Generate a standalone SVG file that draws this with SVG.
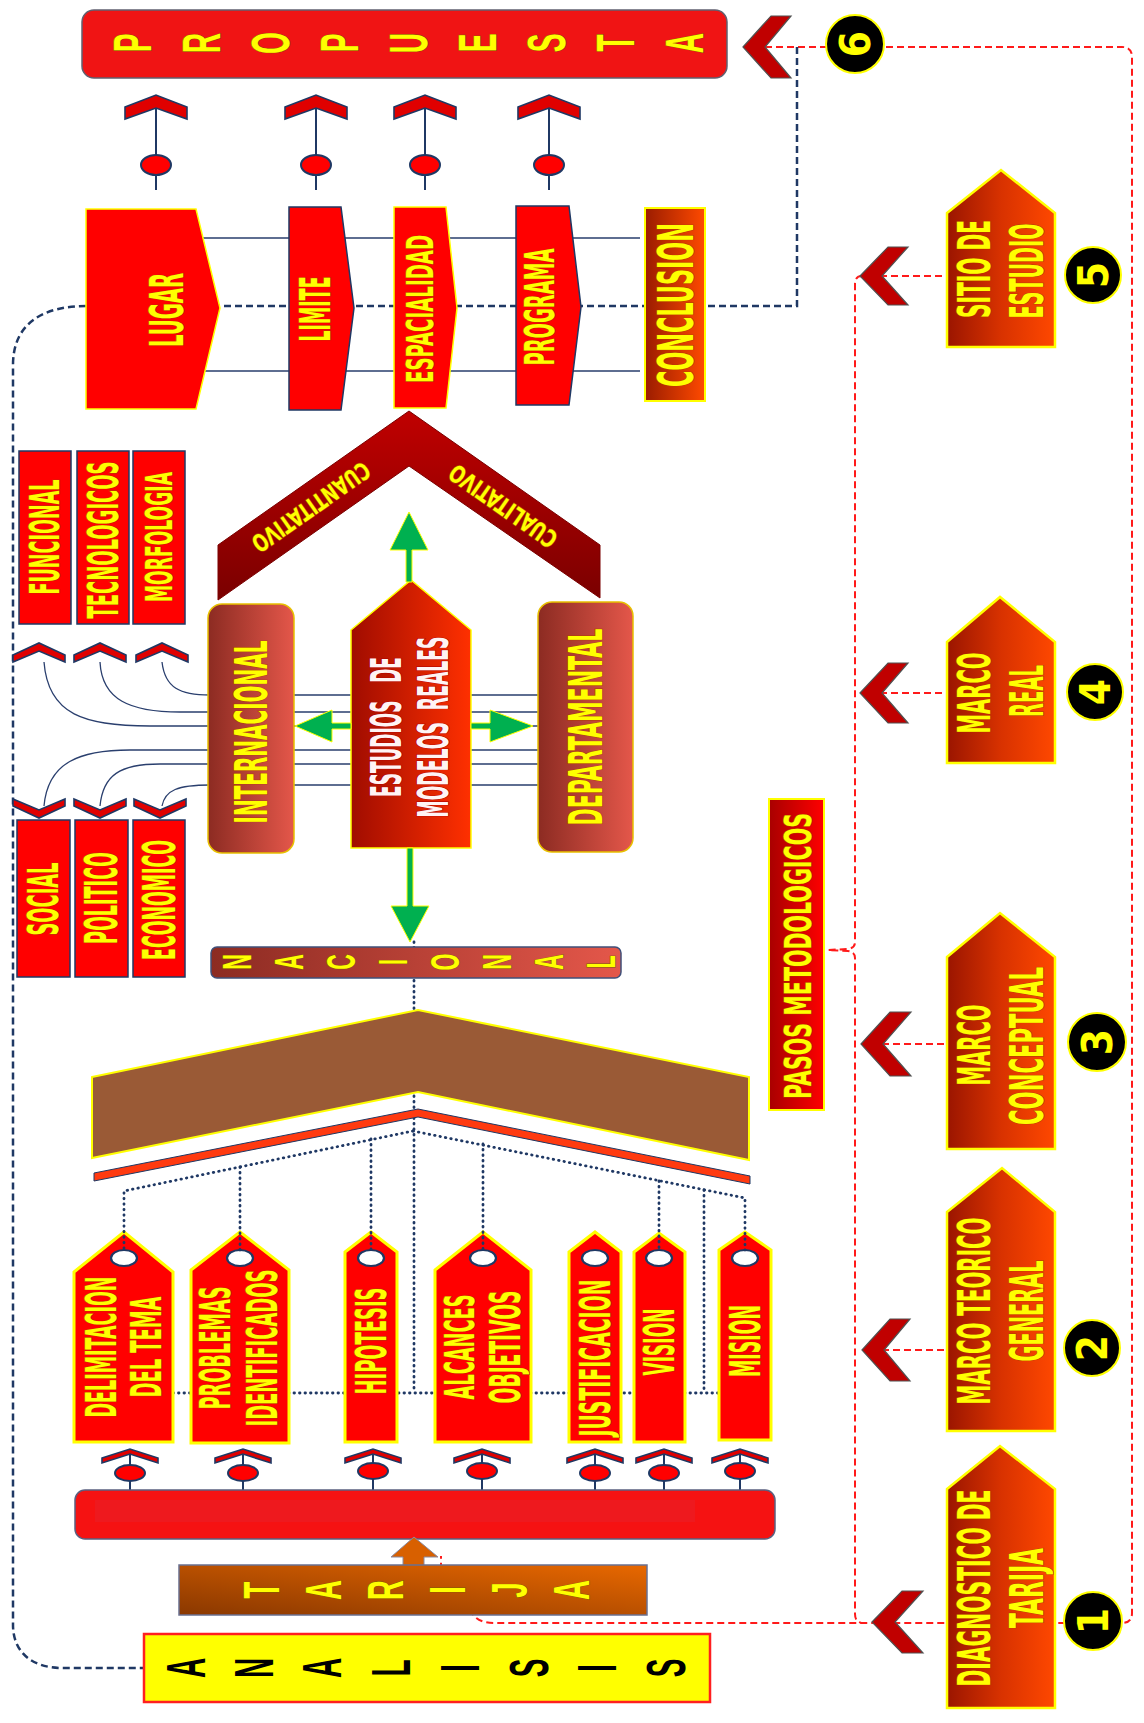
<svg xmlns="http://www.w3.org/2000/svg" width="1144" height="1723" viewBox="0 0 1144 1723">
<defs>
<linearGradient id="gHouse" x1="0" y1="0" x2="1" y2="0"><stop offset="0" stop-color="#9a1500"/><stop offset="0.5" stop-color="#d83200"/><stop offset="1" stop-color="#ff4800"/></linearGradient>
<linearGradient id="gCol" x1="0" y1="0" x2="1" y2="0"><stop offset="0" stop-color="#8c2b22"/><stop offset="1" stop-color="#e4574a"/></linearGradient>
<linearGradient id="gEst" x1="0" y1="0" x2="1" y2="0"><stop offset="0" stop-color="#a00c00"/><stop offset="1" stop-color="#ff3000"/></linearGradient>
<linearGradient id="gConc" x1="0" y1="0" x2="1" y2="0"><stop offset="0" stop-color="#9a1c00"/><stop offset="1" stop-color="#ff4a00"/></linearGradient>
<linearGradient id="gPasos" x1="0" y1="0" x2="1" y2="0"><stop offset="0" stop-color="#a80000"/><stop offset="1" stop-color="#ff0000"/></linearGradient>
<linearGradient id="gTar" x1="0" y1="1" x2="1" y2="0"><stop offset="0" stop-color="#8a3800"/><stop offset="1" stop-color="#e86800"/></linearGradient>
<linearGradient id="gRoof" x1="0" y1="0" x2="0" y2="1"><stop offset="0" stop-color="#c00000"/><stop offset="1" stop-color="#7a0000"/></linearGradient>
<style>
.t{font-family:"Liberation Sans Narrow","DejaVu Sans Condensed","Liberation Sans",sans-serif;font-weight:bold;fill:#ffff00;stroke:#b04000;stroke-width:1.4;paint-order:stroke;text-anchor:middle}
.tw{font-family:"Liberation Sans Narrow","DejaVu Sans Condensed","Liberation Sans",sans-serif;font-weight:bold;fill:#fff4f4;stroke:#b00000;stroke-width:1.6;paint-order:stroke;text-anchor:middle;white-space:pre}
.L{font-family:"Liberation Sans","DejaVu Sans",sans-serif;font-weight:bold;fill:#ffff00;stroke:#806000;stroke-width:1.2;paint-order:stroke;text-anchor:middle}
.Lk{font-family:"Liberation Sans","DejaVu Sans",sans-serif;font-weight:bold;fill:#000;text-anchor:middle}
.red{fill:#ff0000;stroke:#1f3864;stroke-width:1.5}
.tag{fill:#ff0000;stroke:#ffff00;stroke-width:3}
.house{fill:url(#gHouse);stroke:#ffff00;stroke-width:2.5}
.chev{fill:#c00000;stroke:#505050;stroke-width:1.2}
.chevU{fill:#e00000;stroke:#1f3864;stroke-width:1.6}
.circ{fill:#000;stroke:#ffff00;stroke-width:2}
.num{font-family:"Liberation Sans Narrow","DejaVu Sans Condensed","Liberation Sans",sans-serif;font-weight:bold;fill:#ffff00;text-anchor:middle}
.rdash{fill:none;stroke:#ff1a1a;stroke-width:2;stroke-dasharray:7 4}
.ndash{fill:none;stroke:#1f3864;stroke-width:2.5;stroke-dasharray:7 4}
.thin{fill:none;stroke:#2a3f6e;stroke-width:1.3}
.dot{fill:none;stroke:#1f3864;stroke-width:2.8;stroke-dasharray:0.5 5;stroke-linecap:round}
.stem{fill:none;stroke:#1f3864;stroke-width:2}
.ell{fill:#ff0000;stroke:#1f3864;stroke-width:2}
.hole{fill:#ffffff;stroke:#1f3864;stroke-width:2.2}
.green{fill:#00b050;stroke:#ffff00;stroke-width:1}
</style>
</defs>
<rect width="1144" height="1723" fill="#ffffff"/>

<g id="connectors">
<path class="rdash" d="M743 47 L1122 47 Q1132 47 1132 57 L1132 1613 Q1132 1623 1122 1623 L494 1623 Q478 1623 472 1613 L441 1566 L441 1556"/>
<path class="rdash" d="M862 276 Q855 276 855 284 L855 942 Q855 948 848 949 L828 950 L848 951 Q855 952 855 958 L855 1614 Q855 1623 864 1623"/>
<path class="rdash" d="M880 276 H947 M880 693 H947 M882 1044 H947 M882 1350 H947"/>
<path class="ndash" d="M797 47 L797 306 L86 306"/>
<path class="ndash" d="M86 306 C45 306 13 322 13 365 L13 1625 C13 1652 32 1668 62 1668 L143 1668"/>
<path class="thin" d="M203 238 H640 M203 371 H640"/>
<path class="thin" d="M162 662 C165 688 180 695 210 695 L538 695"/>
<path class="thin" d="M100 662 C102 700 130 712 180 712 L538 712"/>
<path class="thin" d="M44 662 C48 715 85 726 150 726 L538 726"/>
<path class="thin" d="M44 806 C48 762 80 750 130 750 L538 750"/>
<path class="thin" d="M100 806 C103 775 120 764 160 764 L538 764"/>
<path class="thin" d="M162 806 C165 790 178 785 210 785 L538 785"/>
<path class="dot" d="M414 942 V1393"/>
<path class="dot" d="M173 1393 H719"/>
<path class="dot" d="M704 1190 V1393"/>
<path class="stem" d="M156 108 V190 M316 108 V190 M425 108 V190 M549 108 V190"/>
<path class="stem" d="M130 1454 V1490 M243 1454 V1490 M373 1454 V1490 M482 1454 V1490 M595 1454 V1490 M664 1454 V1490 M740 1454 V1490"/>
</g>

<g id="propuesta">
<rect x="82" y="10" width="645" height="68" rx="12" fill="#f01414" stroke="#606070" stroke-width="1.5"/>
<text class="L" font-size="53" transform="translate(132,43) rotate(-90) scale(0.53,1)" y="19">P</text>
<text class="L" font-size="53" transform="translate(201,43) rotate(-90) scale(0.53,1)" y="19">R</text>
<text class="L" font-size="53" transform="translate(270,43) rotate(-90) scale(0.53,1)" y="19">O</text>
<text class="L" font-size="53" transform="translate(339,43) rotate(-90) scale(0.53,1)" y="19">P</text>
<text class="L" font-size="53" transform="translate(408,43) rotate(-90) scale(0.53,1)" y="19">U</text>
<text class="L" font-size="53" transform="translate(477,43) rotate(-90) scale(0.53,1)" y="19">E</text>
<text class="L" font-size="53" transform="translate(546,43) rotate(-90) scale(0.53,1)" y="19">S</text>
<text class="L" font-size="53" transform="translate(615,43) rotate(-90) scale(0.53,1)" y="19">T</text>
<text class="L" font-size="53" transform="translate(684,43) rotate(-90) scale(0.53,1)" y="19">A</text>
</g>

<g id="propuesta-arrows">
<polygon class="chevU" points="125,107 156,95 187,107 187,119 156,108 125,119"/>
<polygon class="chevU" points="285,107 316,95 347,107 347,119 316,108 285,119"/>
<polygon class="chevU" points="394,107 425,95 456,107 456,119 425,108 394,119"/>
<polygon class="chevU" points="518,107 549,95 580,107 580,119 549,108 518,119"/>
<ellipse class="ell" cx="156" cy="165" rx="15" ry="10"/>
<ellipse class="ell" cx="316" cy="165" rx="15" ry="10"/>
<ellipse class="ell" cx="425" cy="165" rx="15" ry="10"/>
<ellipse class="ell" cx="549" cy="165" rx="15" ry="10"/>
</g>

<g id="lugar"><polygon points="86,209 196,209 220,308 196,409 86,409" fill="#ff0000" stroke="#ffff00" stroke-width="1.5"/>
<text class="t" font-size="47" textLength="74" lengthAdjust="spacingAndGlyphs" transform="rotate(-90 166 310)" x="166" y="327">LUGAR</text></g>
<g id="limite"><polygon class="red" points="289,207 341,207 354,308 341,410 289,410"/>
<text class="t" font-size="43" textLength="65" lengthAdjust="spacingAndGlyphs" transform="rotate(-90 315 309)" x="315" y="324">LIMITE</text></g>
<g id="espacialidad"><polygon points="394,207 446,207 457,308 446,408 394,408" fill="#ff0000" stroke="#ffff00" stroke-width="1.5"/>
<text class="t" font-size="38" textLength="148" lengthAdjust="spacingAndGlyphs" transform="rotate(-90 419 309)" x="419" y="323">ESPACIALIDAD</text></g>
<g id="programa"><polygon class="red" points="516,206 569,206 581,307 569,405 516,405"/>
<text class="t" font-size="40" textLength="117" lengthAdjust="spacingAndGlyphs" transform="rotate(-90 540 307)" x="540" y="321">PROGRAMA</text></g>
<g id="conclusion"><rect x="645" y="208" width="60" height="193" fill="url(#gConc)" stroke="#ffff00" stroke-width="2"/>
<text class="t" font-size="50" textLength="164" lengthAdjust="spacingAndGlyphs" transform="rotate(-90 675 305)" x="675" y="323">CONCLUSION</text></g>

<g id="roof">
<polygon points="218,545 409,411 600,545 600,598 409,466 218,600" fill="url(#gRoof)" stroke="#7a0000" stroke-width="1"/>
<text class="t" font-size="24" textLength="138" lengthAdjust="spacingAndGlyphs" transform="translate(311,507) rotate(145)" y="8.5" stroke-width="0.8">CUANTITATIVO</text>
<text class="t" font-size="24" textLength="126" lengthAdjust="spacingAndGlyphs" transform="translate(503,506) rotate(-145)" y="8.5" stroke-width="0.8">CUALITATIVO</text>
</g>

<g id="funcional"><rect class="red" x="19" y="451" width="52" height="173"/>
<text class="t" font-size="40" textLength="115" lengthAdjust="spacingAndGlyphs" transform="rotate(-90 45 537)" x="45" y="551">FUNCIONAL</text></g>
<g id="tecnologicos"><rect class="red" x="77" y="451" width="52" height="173"/>
<text class="t" font-size="43" textLength="157" lengthAdjust="spacingAndGlyphs" transform="rotate(-90 103 540)" x="103" y="555">TECNOLOGICOS</text></g>
<g id="morfologia"><rect class="red" x="133" y="451" width="52" height="173"/>
<text class="t" font-size="38" textLength="130" lengthAdjust="spacingAndGlyphs" transform="rotate(-90 158 537)" x="158" y="551">MORFOLOGIA</text></g>

<g id="left-chevrons">
<polygon class="chevU" points="13,655 39,643 65,655 65,662 39,651 13,662"/>
<polygon class="chevU" points="74,655 100,643 126,655 126,662 100,651 74,662"/>
<polygon class="chevU" points="136,655 162,643 188,655 188,662 162,651 136,662"/>
<polygon class="chevU" points="13,799 39,810 65,799 65,806 39,818 13,806"/>
<polygon class="chevU" points="74,799 100,810 126,799 126,806 100,818 74,806"/>
<polygon class="chevU" points="134,799 160,810 186,799 186,806 160,818 134,806"/>
</g>

<g id="social"><rect class="red" x="17" y="820" width="53" height="157"/>
<text class="t" font-size="42" textLength="73" lengthAdjust="spacingAndGlyphs" transform="rotate(-90 43 899)" x="43" y="914">SOCIAL</text></g>
<g id="politico"><rect class="red" x="75" y="820" width="53" height="157"/>
<text class="t" font-size="44" textLength="92" lengthAdjust="spacingAndGlyphs" transform="rotate(-90 101 898)" x="101" y="914">POLITICO</text></g>
<g id="economico"><rect class="red" x="133" y="820" width="52" height="157"/>
<text class="t" font-size="44" textLength="120" lengthAdjust="spacingAndGlyphs" transform="rotate(-90 159 900)" x="159" y="916">ECONOMICO</text></g>

<g id="internacional"><rect x="208" y="604" width="86" height="249" rx="14" fill="url(#gCol)" stroke="#e8c000" stroke-width="1.5"/>
<text class="t" font-size="44" textLength="183" lengthAdjust="spacingAndGlyphs" transform="rotate(-90 251 732)" x="251" y="748">INTERNACIONAL</text></g>
<g id="estudios"><polygon points="351,630 411,580 471,630 471,848 351,848" fill="url(#gEst)" stroke="#ffff00" stroke-width="1.5"/>
<text class="tw" xml:space="preserve" font-size="43" textLength="140" lengthAdjust="spacingAndGlyphs" transform="rotate(-90 386 727)" x="386" y="742">ESTUDIOS   DE</text>
<text class="tw" xml:space="preserve" font-size="43" textLength="181" lengthAdjust="spacingAndGlyphs" transform="rotate(-90 433 727)" x="433" y="742">MODELOS  REALES</text></g>
<g id="departamental"><rect x="538" y="602" width="95" height="250" rx="14" fill="url(#gCol)" stroke="#e8c000" stroke-width="1.5"/>
<text class="t" font-size="46" textLength="197" lengthAdjust="spacingAndGlyphs" transform="rotate(-90 586 727)" x="586" y="743">DEPARTAMENTAL</text></g>

<g id="green-arrows">
<polygon class="green" points="406,582 406,550 390,550 409,512 428,550 412,550 412,582"/>
<polygon class="green" points="351,723 332,723 332,710 295,726 332,742 332,729 351,729"/>
<polygon class="green" points="471,723 490,723 490,710 533,726 490,742 490,729 471,729"/>
<polygon class="green" points="407,848 413,848 413,906 429,906 410,942 391,906 407,906"/>
</g>

<g id="nacional"><rect x="211" y="947" width="410" height="31" rx="6" fill="url(#gCol)" stroke="#40507a" stroke-width="1.5"/>
<text class="L" font-size="40" transform="translate(236,962) rotate(-90) scale(0.54,1)" y="14.5">N</text>
<text class="L" font-size="40" transform="translate(288,962) rotate(-90) scale(0.54,1)" y="14.5">A</text>
<text class="L" font-size="40" transform="translate(340,962) rotate(-90) scale(0.54,1)" y="14.5">C</text>
<text class="L" font-size="40" transform="translate(392,962) rotate(-90) scale(0.54,1)" y="14.5">I</text>
<text class="L" font-size="40" transform="translate(444,962) rotate(-90) scale(0.54,1)" y="14.5">O</text>
<text class="L" font-size="40" transform="translate(496,962) rotate(-90) scale(0.54,1)" y="14.5">N</text>
<text class="L" font-size="40" transform="translate(548,962) rotate(-90) scale(0.54,1)" y="14.5">A</text>
<text class="L" font-size="40" transform="translate(600,962) rotate(-90) scale(0.54,1)" y="14.5">L</text>
</g>

<g id="brown-roof">
<polygon points="92,1077 418,1010 749,1077 749,1160 418,1092 92,1158" fill="#9a5a36" stroke="#ffff00" stroke-width="2"/>
<polygon points="94,1173 418,1109 750,1176 750,1184 418,1117 94,1181" fill="#ff3a10" stroke="#1f3864" stroke-width="1"/>
</g>

<g id="delimitacion"><polygon class="tag" points="74,1272 124,1232 173,1272 173,1442 74,1442"/><ellipse class="hole" cx="124" cy="1258" rx="13" ry="8"/>
<text class="t" font-size="42" textLength="141" lengthAdjust="spacingAndGlyphs" transform="rotate(-90 101 1347)" x="101" y="1362">DELIMITACION</text>
<text class="t" font-size="42" textLength="101" lengthAdjust="spacingAndGlyphs" transform="rotate(-90 146 1347)" x="146" y="1362">DEL TEMA</text></g>
<g id="problemas"><polygon class="tag" points="191,1270 240,1232 289,1270 289,1443 191,1443"/><ellipse class="hole" cx="240" cy="1258" rx="13" ry="8"/>
<text class="t" font-size="42" textLength="123" lengthAdjust="spacingAndGlyphs" transform="rotate(-90 215 1348)" x="215" y="1363">PROBLEMAS</text>
<text class="t" font-size="42" textLength="157" lengthAdjust="spacingAndGlyphs" transform="rotate(-90 262 1348)" x="262" y="1363">IDENTIFICADOS</text></g>
<g id="hipotesis"><polygon class="tag" points="345,1252 371,1232 397,1252 397,1442 345,1442"/><ellipse class="hole" cx="371" cy="1258" rx="13" ry="8"/>
<text class="t" font-size="42" textLength="107" lengthAdjust="spacingAndGlyphs" transform="rotate(-90 371 1341)" x="371" y="1356">HIPOTESIS</text></g>
<g id="alcances"><polygon class="tag" points="435,1270 483,1232 531,1270 531,1442 435,1442"/><ellipse class="hole" cx="483" cy="1258" rx="13" ry="8"/>
<text class="t" font-size="41" textLength="105" lengthAdjust="spacingAndGlyphs" transform="rotate(-90 459 1347)" x="459" y="1362">ALCANCES</text>
<text class="t" font-size="42" textLength="113" lengthAdjust="spacingAndGlyphs" transform="rotate(-90 505 1347)" x="505" y="1362">OBJETIVOS</text></g>
<g id="justificacion"><polygon class="tag" points="569,1252 595,1232 621,1252 621,1442 569,1442"/><ellipse class="hole" cx="595" cy="1258" rx="13" ry="8"/>
<text class="t" font-size="42" textLength="157" lengthAdjust="spacingAndGlyphs" transform="rotate(-90 595 1358)" x="595" y="1373">JUSTIFICACION</text></g>
<g id="vision"><polygon class="tag" points="634,1252 659,1233 685,1252 685,1442 634,1442"/><ellipse class="hole" cx="659" cy="1258" rx="13" ry="8"/>
<text class="t" font-size="42" textLength="67" lengthAdjust="spacingAndGlyphs" transform="rotate(-90 659 1342)" x="659" y="1357">VISION</text></g>
<g id="mision"><polygon class="tag" points="719,1250 745,1232 771,1250 771,1440 719,1440"/><ellipse class="hole" cx="745" cy="1258" rx="13" ry="8"/>
<text class="t" font-size="42" textLength="72" lengthAdjust="spacingAndGlyphs" transform="rotate(-90 745 1341)" x="745" y="1356">MISION</text></g>

<g id="connectors-front">
<path class="dot" d="M413 1131 L124 1191 V1250"/>
<path class="dot" d="M413 1131 L745 1198 V1250"/>
<path class="dot" d="M240 1167 V1250 M371 1139 V1250 M483 1144 V1250 M659 1181 V1250"/>
</g>

<g id="tag-arrows">
<polygon class="chevU" points="102,1458 130,1449 158,1458 158,1463 130,1454 102,1463"/>
<polygon class="chevU" points="215,1458 243,1449 271,1458 271,1463 243,1454 215,1463"/>
<polygon class="chevU" points="345,1458 373,1449 401,1458 401,1463 373,1454 345,1463"/>
<polygon class="chevU" points="454,1458 482,1449 510,1458 510,1463 482,1454 454,1463"/>
<polygon class="chevU" points="567,1458 595,1449 623,1458 623,1463 595,1454 567,1463"/>
<polygon class="chevU" points="636,1458 664,1449 692,1458 692,1463 664,1454 636,1463"/>
<polygon class="chevU" points="712,1458 740,1449 768,1458 768,1463 740,1454 712,1463"/>
<ellipse class="ell" cx="130" cy="1473" rx="15" ry="8"/>
<ellipse class="ell" cx="243" cy="1473" rx="15" ry="8"/>
<ellipse class="ell" cx="373" cy="1471" rx="15" ry="8"/>
<ellipse class="ell" cx="482" cy="1471" rx="15" ry="8"/>
<ellipse class="ell" cx="595" cy="1473" rx="15" ry="8"/>
<ellipse class="ell" cx="664" cy="1473" rx="15" ry="8"/>
<ellipse class="ell" cx="740" cy="1471" rx="15" ry="8"/>
</g>

<g id="base-bar">
<rect x="75" y="1490" width="700" height="49" rx="10" fill="#f51212" stroke="#5a6080" stroke-width="1.5"/>
<rect x="95" y="1500" width="600" height="22" fill="#e8202a" opacity="0.5"/>
</g>

<g id="tarija">
<polygon points="403,1566 403,1557 391,1557 414,1537 438,1557 424,1557 424,1566" fill="#d86000" stroke="#8a8aa0" stroke-width="1"/>
<rect x="179" y="1565" width="468" height="50" fill="url(#gTar)" stroke="#6a7090" stroke-width="1.5"/>
<text class="L" font-size="50" transform="translate(261,1590) rotate(-90) scale(0.55,1)" y="18">T</text>
<text class="L" font-size="50" transform="translate(323,1590) rotate(-90) scale(0.55,1)" y="18">A</text>
<text class="L" font-size="50" transform="translate(385,1590) rotate(-90) scale(0.55,1)" y="18">R</text>
<text class="L" font-size="50" transform="translate(447,1590) rotate(-90) scale(0.55,1)" y="18">I</text>
<text class="L" font-size="50" transform="translate(509,1590) rotate(-90) scale(0.55,1)" y="18">J</text>
<text class="L" font-size="50" transform="translate(571,1590) rotate(-90) scale(0.55,1)" y="18">A</text>
</g>

<g id="analisis">
<rect x="144" y="1634" width="566" height="68" fill="#ffff00" stroke="#ff2020" stroke-width="2.5"/>
<text class="Lk" font-size="56" transform="translate(185,1668) rotate(-90) scale(0.5,1)" y="20">A</text>
<text class="Lk" font-size="56" transform="translate(253,1668) rotate(-90) scale(0.5,1)" y="20">N</text>
<text class="Lk" font-size="56" transform="translate(321,1668) rotate(-90) scale(0.5,1)" y="20">A</text>
<text class="Lk" font-size="56" transform="translate(390,1668) rotate(-90) scale(0.5,1)" y="20">L</text>
<text class="Lk" font-size="56" transform="translate(459,1668) rotate(-90) scale(0.5,1)" y="20">I</text>
<text class="Lk" font-size="56" transform="translate(528,1668) rotate(-90) scale(0.5,1)" y="20">S</text>
<text class="Lk" font-size="56" transform="translate(596,1668) rotate(-90) scale(0.5,1)" y="20">I</text>
<text class="Lk" font-size="56" transform="translate(665,1668) rotate(-90) scale(0.5,1)" y="20">S</text>
</g>

<g id="pasos"><rect x="769" y="799" width="55" height="311" fill="url(#gPasos)" stroke="#ffff00" stroke-width="2"/>
<text class="t" font-size="38" textLength="286" lengthAdjust="spacingAndGlyphs" transform="rotate(-90 797 956)" x="797" y="970">PASOS METODOLOGICOS</text></g>

<g id="step6">
<polygon class="chev" points="743,47 771,16 791,16 765,47 791,78 771,78"/>
<circle class="circ" cx="855" cy="44" r="29"/>
<text class="num" font-size="42" transform="rotate(-90 855 44)" x="855" y="59">6</text>
</g>
<g id="step5">
<polygon class="chev" points="860,276 888,247 908,247 882,276 908,305 888,305"/>
<polygon class="house" points="947,213 1001,170 1055,213 1055,347 947,347"/>
<text class="t" font-size="44" textLength="98" lengthAdjust="spacingAndGlyphs" transform="rotate(-90 974 269)" x="974" y="285">SITIO DE</text>
<text class="t" font-size="46" textLength="95" lengthAdjust="spacingAndGlyphs" transform="rotate(-90 1027 271)" x="1027" y="287">ESTUDIO</text>
<circle class="circ" cx="1093" cy="275" r="28"/>
<text class="num" font-size="42" transform="rotate(-90 1093 275)" x="1093" y="290">5</text>
</g>
<g id="step4">
<polygon class="chev" points="860,693 888,663 908,663 882,693 908,723 888,723"/>
<polygon class="house" points="947,642 1000,597 1055,642 1055,763 947,763"/>
<text class="t" font-size="44" textLength="81" lengthAdjust="spacingAndGlyphs" transform="rotate(-90 974 693)" x="974" y="709">MARCO</text>
<text class="t" font-size="46" textLength="52" lengthAdjust="spacingAndGlyphs" transform="rotate(-90 1027 691)" x="1027" y="707">REAL</text>
<circle class="circ" cx="1095" cy="692" r="28"/>
<text class="num" font-size="42" transform="rotate(-90 1095 692)" x="1095" y="707">4</text>
</g>
<g id="step3">
<polygon class="chev" points="861,1044 890,1012 911,1012 883,1044 911,1076 890,1076"/>
<polygon class="house" points="947,957 1000,913 1055,957 1055,1149 947,1149"/>
<text class="t" font-size="44" textLength="81" lengthAdjust="spacingAndGlyphs" transform="rotate(-90 974 1045)" x="974" y="1061">MARCO</text>
<text class="t" font-size="46" textLength="158" lengthAdjust="spacingAndGlyphs" transform="rotate(-90 1027 1046)" x="1027" y="1062">CONCEPTUAL</text>
<circle class="circ" cx="1097" cy="1042" r="29"/>
<text class="num" font-size="42" transform="rotate(-90 1097 1042)" x="1097" y="1057">3</text>
</g>
<g id="step2">
<polygon class="chev" points="862,1350 890,1319 910,1319 884,1350 910,1381 890,1381"/>
<polygon class="house" points="947,1212 1002,1168 1055,1212 1055,1431 947,1431"/>
<text class="t" font-size="44" textLength="187" lengthAdjust="spacingAndGlyphs" transform="rotate(-90 974 1311)" x="974" y="1327">MARCO TEORICO</text>
<text class="t" font-size="46" textLength="101" lengthAdjust="spacingAndGlyphs" transform="rotate(-90 1027 1311)" x="1027" y="1327">GENERAL</text>
<circle class="circ" cx="1092" cy="1348" r="28"/>
<text class="num" font-size="42" transform="rotate(-90 1092 1348)" x="1092" y="1363">2</text>
</g>
<g id="step1">
<polygon class="chev" points="872,1622 902,1591 923,1591 895,1622 923,1653 902,1653"/>
<polygon class="house" points="947,1489 1000,1446 1055,1489 1055,1708 947,1708"/>
<text class="t" font-size="44" textLength="197" lengthAdjust="spacingAndGlyphs" transform="rotate(-90 974 1588)" x="974" y="1604">DIAGNOSTICO DE</text>
<text class="t" font-size="46" textLength="80" lengthAdjust="spacingAndGlyphs" transform="rotate(-90 1027 1588)" x="1027" y="1604">TARIJA</text>
<circle class="circ" cx="1093" cy="1621" r="29"/>
<text class="num" font-size="42" transform="rotate(-90 1093 1621)" x="1093" y="1636">1</text>
</g>
</svg>
